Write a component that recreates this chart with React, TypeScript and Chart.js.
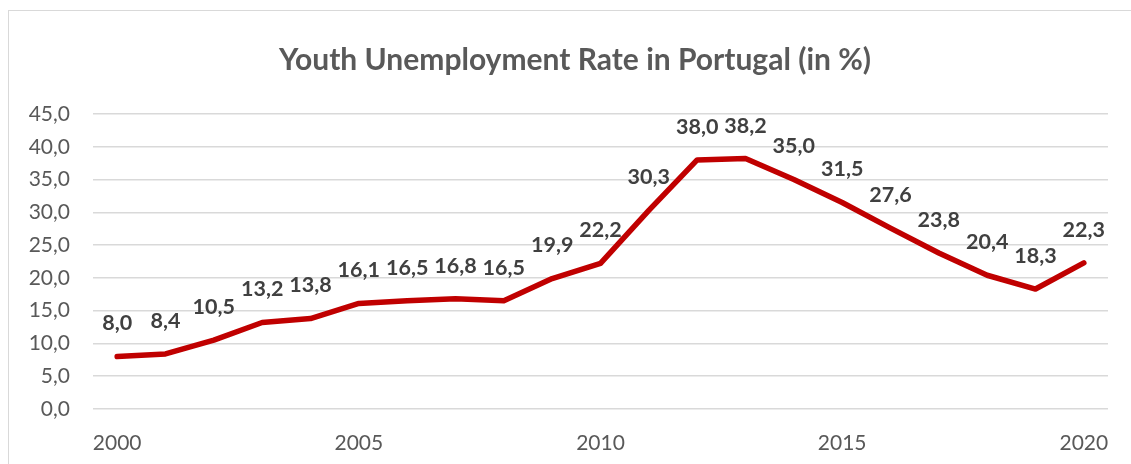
import React, { useEffect, useRef } from "react";
import { Chart, registerables } from "chart.js";

Chart.register(...registerables);

const years: string[] = [
  "2000", "2001", "2002", "2003", "2004", "2005", "2006", "2007", "2008", "2009",
  "2010", "2011", "2012", "2013", "2014", "2015", "2016", "2017", "2018", "2019", "2020",
];
const rates: number[] = [
  8.0, 8.4, 10.5, 13.2, 13.8, 16.1, 16.5, 16.8, 16.5, 19.9,
  22.2, 30.3, 38.0, 38.2, 35.0, 31.5, 27.6, 23.8, 20.4, 18.3, 22.3,
];
const titleText = "Youth Unemployment Rate in Portugal (in %)";

const fmt = (v: number) => v.toFixed(1).replace(".", ",");

const labelPlugin = {
  id: "pointLabels",
  afterDatasetsDraw(chart: any) {
    const ctx = chart.ctx;
    const meta = chart.getDatasetMeta(0);
    ctx.save();
    ctx.font = "bold 21.5px Lato";
    ctx.fillStyle = "#404040";
    ctx.textAlign = "center";
    ctx.textBaseline = "middle";
    meta.data.forEach((pt: any, i: number) => {
      ctx.fillText(fmt(rates[i]), pt.x, pt.y - 33);
    });
    ctx.restore();
  },
};

const titlePlugin = {
  id: "chartTitle",
  afterDraw(chart: any) {
    const ctx = chart.ctx;
    ctx.save();
    ctx.font = "bold 30px Lato";
    ctx.fillStyle = "#595959";
    ctx.textAlign = "center";
    ctx.textBaseline = "middle";
    ctx.fillText(titleText, (chart.width - 8) / 2, 49);
    ctx.restore();
  },
};

export default function App() {
  const ref = useRef<HTMLCanvasElement | null>(null);
  useEffect(() => {
    document.documentElement.style.overflow = "hidden";
    document.body.style.overflow = "hidden";
    if (!ref.current) return;
    const chart = new Chart(ref.current, {
      type: "line",
      data: {
        labels: years,
        datasets: [
          {
            data: rates,
            borderColor: "#C00000",
            borderWidth: 5.5,
            pointRadius: 0,
            tension: 0,
            fill: false,
            borderJoinStyle: "round",
            borderCapStyle: "round",
          },
        ],
      },
      options: {
        animation: false,
        responsive: true,
        maintainAspectRatio: false,
        layout: { padding: { left: 0, right: 41, top: 103, bottom: 0 } },
        plugins: {
          legend: { display: false },
          tooltip: { enabled: false },
          title: { display: false },
        },
        scales: {
          x: {
            offset: true,
            grid: { display: false, drawTicks: false },
            border: { display: false },
            ticks: {
              autoSkip: false,
              maxRotation: 0,
              padding: 22,
              color: "#595959",
              font: { family: "Lato", size: 21 },
              callback: (_v: any, i: number) => (i % 5 === 0 ? years[i] : ""),
            },
            afterFit: (axis: any) => {
              axis.height = 72;
            },
          },
          y: {
            min: 0,
            max: 45,
            grid: { color: "#d9d9d9", lineWidth: 1.5, drawTicks: false },
            border: { display: false },
            ticks: {
              stepSize: 5,
              padding: 23,
              color: "#595959",
              font: { family: "Lato", size: 21 },
              callback: (v: any) => fmt(Number(v)),
            },
            afterFit: (axis: any) => {
              axis.width = 84;
            },
          },
        },
      },
      plugins: [labelPlugin, titlePlugin],
    } as any);
    return () => chart.destroy();
  }, []);

  return (
    <div
      style={{
        position: "fixed",
        left: 8,
        top: 10,
        width: 1140,
        height: 470,
        border: "1px solid #d9d9d9",
        background: "#fff",
      }}
    >
      <canvas ref={ref} />
    </div>
  );
}
